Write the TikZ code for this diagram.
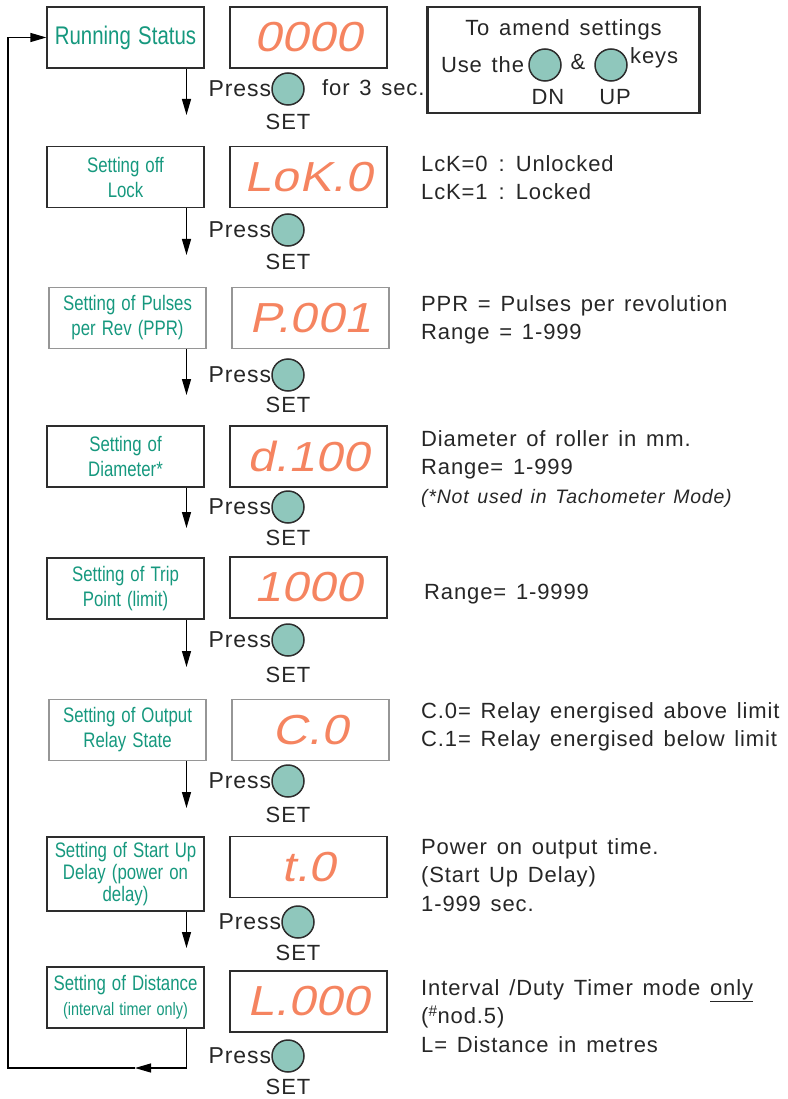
\documentclass[tikz,border=0pt]{standalone}
\usepackage{fontspec}
\setmainfont{Liberation Sans}
\newfontfamily\notefont[WordSpace=1.4,LetterSpace=4]{Liberation Sans}
\newfontfamily\boxfont[FakeStretch=0.8,WordSpace=1.3]{Liberation Sans}
\newfontfamily\lcdfont[FakeStretch=1.15,FakeSlant=0.22,LetterSpace=1]{Liberation Sans}
\usetikzlibrary{arrows.meta}
\definecolor{setteal}{RGB}{22,152,126}
\definecolor{lcdred}{RGB}{245,132,96}
\definecolor{keyfill}{RGB}{143,199,188}
\definecolor{boxline}{RGB}{45,45,45}
\definecolor{boxgrey}{RGB}{150,150,150}
\begin{document}
\begin{tikzpicture}[x=1pt,y=-1pt,>={Triangle[length=16pt,width=9pt]},
   setbox/.style={draw=boxline,line width=1.2pt,minimum width=157pt,minimum height=61pt,inner sep=0pt,
                  align=center,text=setteal,font=\boxfont\fontsize{21}{25}\selectfont},
   greybox/.style={setbox,draw=boxgrey},
   lcd/.style={draw=boxline,line width=1.2pt,minimum width=157pt,minimum height=61pt,inner sep=0pt,
               text=lcdred,font=\lcdfont\fontsize{42}{42}\selectfont},
   greylcd/.style={lcd,draw=boxgrey},
   button/.style={circle,draw=boxline,line width=1.5pt,fill=keyfill,minimum size=32pt,inner sep=0pt},
   remark/.style={anchor=north west,align=left,inner sep=0pt,text=black!85,
                  font=\notefont\fontsize{22}{28.5}\selectfont}]
   \useasboundingbox (0,0) rectangle (787,1099);

   \node (run)      at (125.5,37.5)  [setbox,font=\boxfont\fontsize{25.5}{25.5}\selectfont] {Running Status};
   \node (lock)     at (125.5,177)   [setbox]  {Setting off\\Lock};
   \node (ppr)      at (127.5,318)   [greybox] {Setting of Pulses\\per Rev (PPR)};
   \node (dia)      at (125.5,456.5) [setbox]  {Setting of\\Diameter*};
   \node (trip)     at (125.5,588.5) [setbox]  {Setting of Trip\\Point (limit)};
   \node (relay)    at (127.5,730)   [greybox] {Setting of Output\\Relay State};
   \node (start)    at (125.5,874)   [setbox,minimum height=74pt,font=\boxfont\fontsize{21}{22}\selectfont]
                                               {Setting of Start Up\\Delay (power on\\delay)};
   \node (dist)     at (125.5,997.5) [setbox]  {Setting of Distance\\{\fontsize{18}{25}\selectfont(interval timer only)}};

   \node (runval)   at (308.5,37.5)  [lcd]     {0000};
   \node (lockval)  at (308.5,177)   [lcd]     {LoK.0};
   \node (pprval)   at (310.5,318)   [greylcd] {P.001};
   \node (diaval)   at (308.5,456.5) [lcd]     {d.100};
   \node (tripval)  at (308.5,587.5) [lcd]     {1000};
   \node (relayval) at (310.5,730)   [greylcd] {C.0};
   \node (startval) at (308.5,867)   [lcd]     {t.0};
   \node (distval)  at (308.5,1001.5)[lcd]     {L.000};

   \node (runkey)   at (288,89)      [button] {};
   \node (lockkey)  at (288,230)     [button] {};
   \node (pprkey)   at (288,375)     [button] {};
   \node (diakey)   at (288,507)     [button] {};
   \node (tripkey)  at (288,640)     [button] {};
   \node (relaykey) at (288,781)     [button] {};
   \node (startkey) at (298,922)     [button] {};
   \node (distkey)  at (288,1056)    [button] {};

   \node (runpress)   at (runkey.west)   [remark,anchor=east,font=\notefont\fontsize{23}{23}\selectfont] {Press};
   \node (lockpress)  at (lockkey.west)  [remark,anchor=east,font=\notefont\fontsize{23}{23}\selectfont] {Press};
   \node (pprpress)   at (pprkey.west)   [remark,anchor=east,font=\notefont\fontsize{23}{23}\selectfont] {Press};
   \node (diapress)   at (diakey.west)   [remark,anchor=east,font=\notefont\fontsize{23}{23}\selectfont] {Press};
   \node (trippress)  at (tripkey.west)  [remark,anchor=east,font=\notefont\fontsize{23}{23}\selectfont] {Press};
   \node (relaypress) at (relaykey.west) [remark,anchor=east,font=\notefont\fontsize{23}{23}\selectfont] {Press};
   \node (startpress) at (startkey.west) [remark,anchor=east,font=\notefont\fontsize{23}{23}\selectfont] {Press};
   \node (distpress)  at (distkey.west)  [remark,anchor=east,font=\notefont\fontsize{23}{23}\selectfont] {Press};

   \node (runset)   at (288,122)  [remark,anchor=center] {SET};
   \node (lockset)  at (288,262)  [remark,anchor=center] {SET};
   \node (pprset)   at (288,405)  [remark,anchor=center] {SET};
   \node (diaset)   at (288,538)  [remark,anchor=center] {SET};
   \node (tripset)  at (288,675)  [remark,anchor=center] {SET};
   \node (relayset) at (288,815)  [remark,anchor=center] {SET};
   \node (startset) at (298,953)  [remark,anchor=center] {SET};
   \node (distset)  at (288,1087) [remark,anchor=center] {SET};

   \node (runhold)  at (322,88) [remark,anchor=west] {for 3 sec.};

   \node (amend)    at (563.5,60) [draw=boxline,line width=2.3pt,minimum width=272pt,minimum height=106pt] {};
   \node (amendtop) at (563.5,30) [remark,anchor=center] {To amend settings};
   \node (dnkey)    at (545,65)   [button] {};
   \node (upkey)    at (611,65)   [button] {};
   \node (usethe)   at (dnkey.west) [remark,anchor=east,xshift=-4pt] {Use the};
   \node (amp)      at (578,62)   [remark,anchor=center] {\&};
   \node (keys)     at (630,58)   [remark,anchor=west] {keys};
   \node (dnlbl)    at (548,97)   [remark,anchor=center] {DN};
   \node (uplbl)    at (615,97)   [remark,anchor=center] {UP};

   \node (locknote)  at (421,155) [remark] {LcK=0\enspace:\enspace Unlocked\\LcK=1\enspace:\enspace Locked};
   \node (pprnote)   at (421,295) [remark] {PPR = Pulses per revolution\\Range = 1-999};
   \node (dianote)   at (421,430) [remark] {Diameter of roller in mm.\\Range= 1-999\\
                                            {\itshape\fontsize{19.5}{28}\selectfont(*Not used in Tachometer Mode)}};
   \node (tripnote)  at (424,584) [remark] {Range= 1-9999};
   \node (relaynote) at (421,702) [remark] {C.0= Relay energised above limit\\C.1= Relay energised below limit};
   \node (startnote) at (421,838) [remark] {Power on output time.\\(Start Up Delay)\\1-999 sec.};
   \node (distnote)  at (421,979) [remark] {Interval /Duty Timer mode \underline{only}\\(\textsuperscript{\#}nod.5)\\L= Distance in metres};

   \coordinate (runnext)   at (186.5,115);
   \coordinate (locknext)  at (186.5,255);
   \coordinate (pprnext)   at (186.5,395);
   \coordinate (dianext)   at (186.5,528);
   \coordinate (tripnext)  at (186.5,667);
   \coordinate (relaynext) at (186.5,808);
   \coordinate (startnext) at (186.5,948);
   \coordinate (loopmid)   at (135,1068);
   \coordinate (loopleft)  at (8,1068);

   \draw[->,line width=1.2pt] (run.south -| runnext)     -- (runnext);
   \draw[->,line width=1.2pt] (lock.south -| locknext)   -- (locknext);
   \draw[->,line width=1.2pt] (ppr.south -| pprnext)     -- (pprnext);
   \draw[->,line width=1.2pt] (dia.south -| dianext)     -- (dianext);
   \draw[->,line width=1.2pt] (trip.south -| tripnext)   -- (tripnext);
   \draw[->,line width=1.2pt] (relay.south -| relaynext) -- (relaynext);
   \draw[->,line width=1.2pt] (start.south -| startnext) -- (startnext);
   \draw[->,line width=1.2pt] (dist.south -| runnext)    |- (loopmid);
   \draw[->,line width=1.2pt] (loopmid) -- (loopleft) |- (run.west);
\end{tikzpicture}
\end{document}
